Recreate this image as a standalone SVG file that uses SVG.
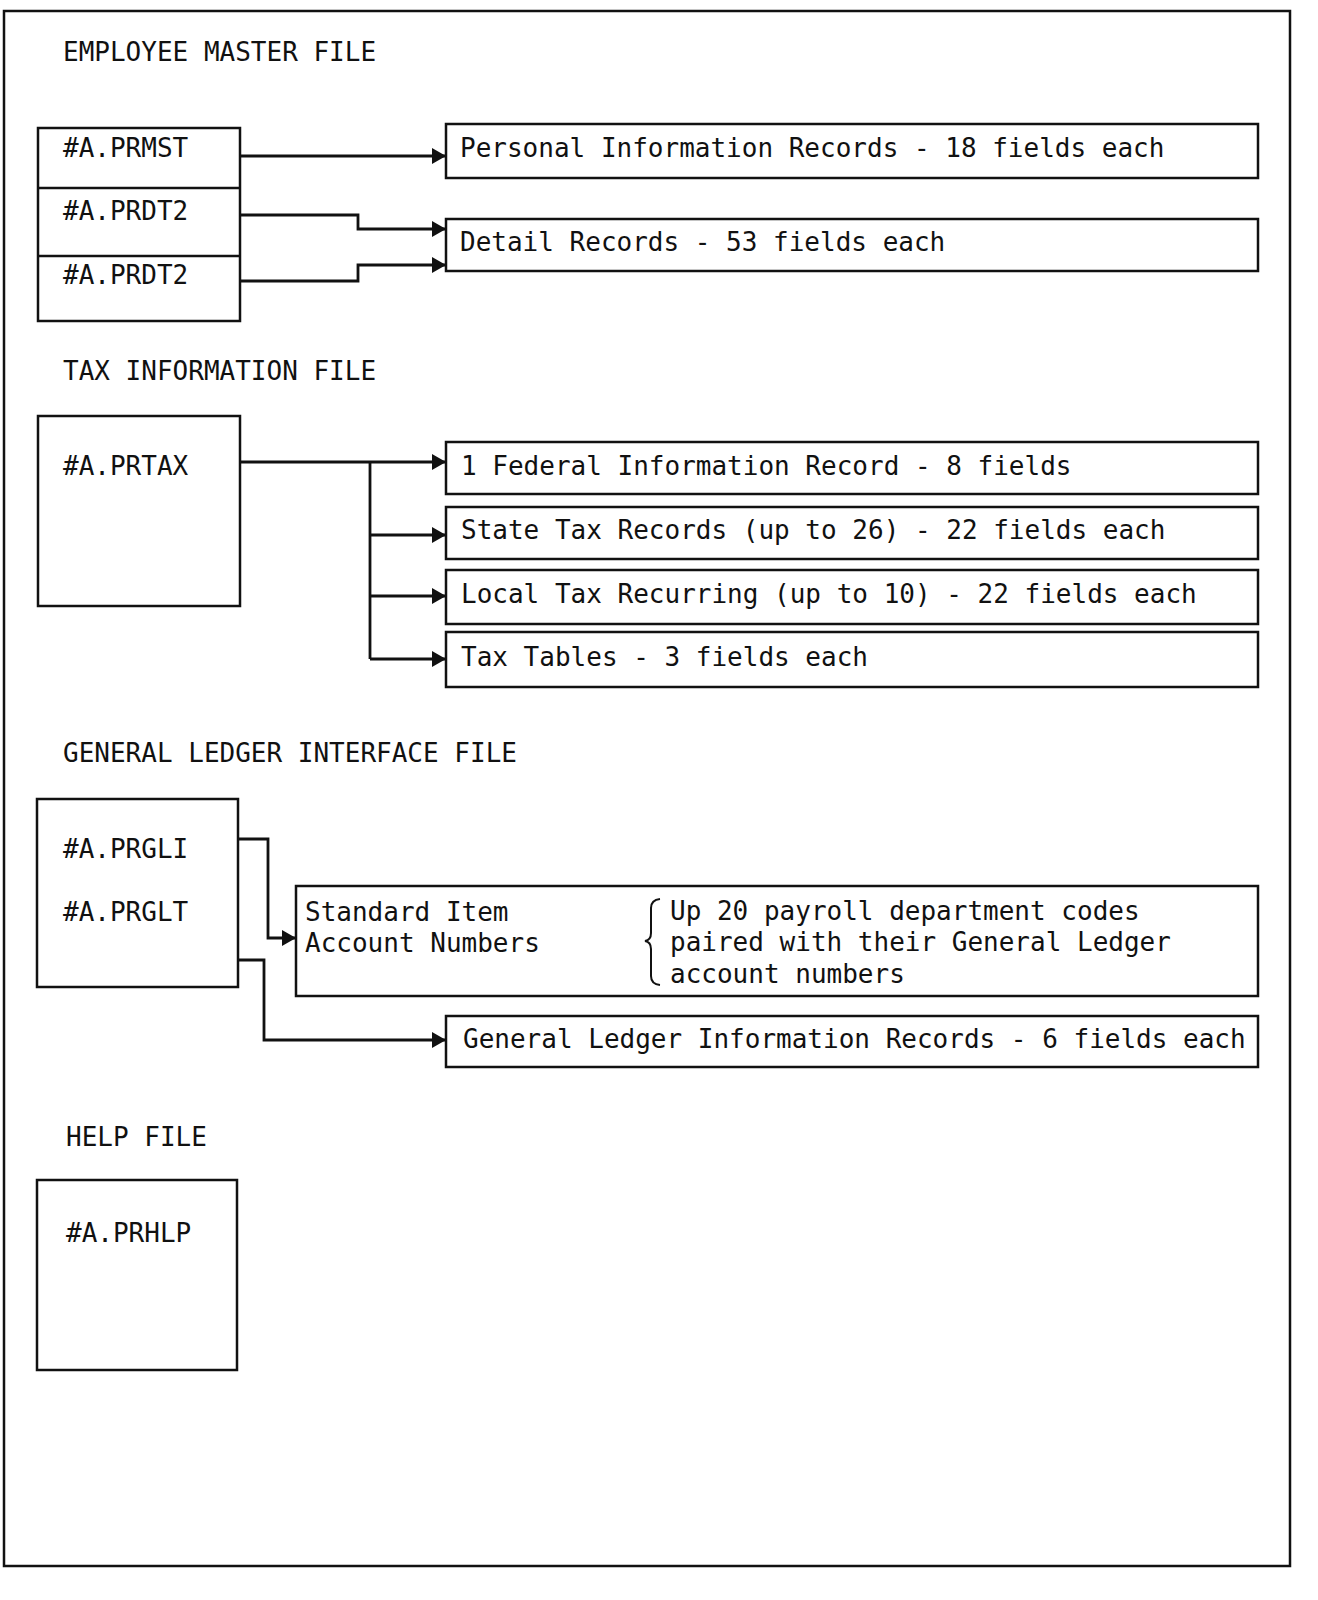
<svg xmlns="http://www.w3.org/2000/svg" width="1318" height="1600" viewBox="0 0 1318 1600">
<style>
  text { font-family: "DejaVu Sans Mono", "Liberation Mono", monospace; font-size: 26px; fill: #111; }
  .box { fill: none; stroke: #111; stroke-width: 2.5; }
  .conn { fill: none; stroke: #111; stroke-width: 2.8; }
</style>
<defs>
  <marker id="ah" viewBox="0 0 14 16" refX="14" refY="8" markerWidth="14" markerHeight="16" markerUnits="userSpaceOnUse" orient="auto">
    <path d="M0,0 L14,8 L0,16 Z" fill="#111"/>
  </marker>
</defs>
<rect width="1318" height="1600" fill="#fff"/>
<rect x="4" y="11" width="1286" height="1555" class="box"/>

<g id="titles">
  <text x="63" y="61">EMPLOYEE MASTER FILE</text>
  <text x="63" y="380">TAX INFORMATION FILE</text>
  <text x="63" y="762">GENERAL LEDGER INTERFACE FILE</text>
  <text x="66" y="1146">HELP FILE</text>
</g>

<g id="master-files">
  <rect x="38" y="128" width="202" height="193" class="box"/>
  <line x1="38" y1="188" x2="240" y2="188" class="box"/>
  <line x1="38" y1="256" x2="240" y2="256" class="box"/>
  <text x="63" y="157">#A.PRMST</text>
  <text x="63" y="220">#A.PRDT2</text>
  <text x="63" y="284">#A.PRDT2</text>
</g>
<g id="personal">
  <rect x="446" y="124" width="812" height="54" class="box"/>
  <text x="460" y="157">Personal Information Records - 18 fields each</text>
</g>
<g id="detail">
  <rect x="446" y="219" width="812" height="52" class="box"/>
  <text x="460" y="251">Detail Records - 53 fields each</text>
</g>

<g id="prtax">
  <rect x="38" y="416" width="202" height="190" class="box"/>
  <text x="63" y="475">#A.PRTAX</text>
</g>
<g id="federal">
  <rect x="446" y="442" width="812" height="52" class="box"/>
  <text x="461" y="475">1 Federal Information Record - 8 fields</text>
</g>
<g id="state">
  <rect x="446" y="507" width="812" height="52" class="box"/>
  <text x="461" y="539">State Tax Records (up to 26) - 22 fields each</text>
</g>
<g id="local">
  <rect x="446" y="570" width="812" height="54" class="box"/>
  <text x="461" y="603">Local Tax Recurring (up to 10) - 22 fields each</text>
</g>
<g id="taxtables">
  <rect x="446" y="632" width="812" height="55" class="box"/>
  <text x="461" y="666">Tax Tables - 3 fields each</text>
</g>

<g id="gl-files">
  <rect x="37" y="799" width="201" height="188" class="box"/>
  <text x="63" y="858">#A.PRGLI</text>
  <text x="63" y="921">#A.PRGLT</text>
</g>
<g id="standard">
  <rect x="296" y="886" width="962" height="110" class="box"/>
  <text x="305" y="921">Standard Item</text>
  <text x="305" y="952">Account Numbers</text>
  <path d="M660,899 Q651,900 651,908 L651,933 Q651,940 645,941 Q651,942 651,949 L651,976 Q651,984 660,985" fill="none" stroke="#111" stroke-width="2"/>
  <text x="670" y="920">Up 20 payroll department codes</text>
  <text x="670" y="951">paired with their General Ledger</text>
  <text x="670" y="983">account numbers</text>
</g>
<g id="glinfo">
  <rect x="446" y="1016" width="812" height="51" class="box"/>
  <text x="463" y="1048">General Ledger Information Records - 6 fields each</text>
</g>

<g id="prhlp">
  <rect x="37" y="1180" width="200" height="190" class="box"/>
  <text x="66" y="1242">#A.PRHLP</text>
</g>

<g id="connectors">
  <path d="M240,156 H446" class="conn" marker-end="url(#ah)"/>
  <path d="M240,215 H358 V229 H446" class="conn" marker-end="url(#ah)"/>
  <path d="M240,281 H358 V265 H446" class="conn" marker-end="url(#ah)"/>
  <path d="M240,462 H446" class="conn" marker-end="url(#ah)"/>
  <path d="M370,462 V659" class="conn"/>
  <path d="M370,535 H446" class="conn" marker-end="url(#ah)"/>
  <path d="M370,596 H446" class="conn" marker-end="url(#ah)"/>
  <path d="M370,659 H446" class="conn" marker-end="url(#ah)"/>
  <path d="M238,839 H268 V938 H296" class="conn" marker-end="url(#ah)"/>
  <path d="M238,960 H264 V1040 H446" class="conn" marker-end="url(#ah)"/>
</g>
</svg>
